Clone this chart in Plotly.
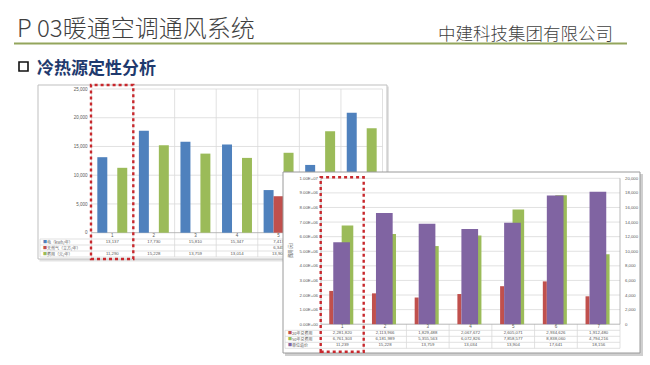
import plotly.graph_objects as go

W, H = 650, 365

# ---------------- data ----------------
categories = ["1", "2", "3", "4", "5", "6", "7"]

# chart 1 (upper-left)
c1_elec = [13137, 17730, 15810, 15347, 7417, 11790, 20860]
c1_gas = [None, None, None, None, 6345, None, None]
c1_cost = [11290, 15228, 13759, 13014, 13904, 17641, 18156]
c1_ticks = [0, 5000, 10000, 15000, 20000, 25000]
c1_row_names = ["电（kWh/年）", "天然气（立方/年）", "费用（元/年）"]

# chart 2 (lower-right)
c2_cost20 = [2281820, 2113966, 1829488, 2067672, 2605071, 2934626, 1912480]
c2_cost50 = [6761303, 6181989, 5355563, 6072826, 7858577, 8838060, 4794216]
c2_unit = [11239, 15228, 13759, 13034, 13904, 17641, 18156]
c2_left_ticks = [0, 1e6, 2e6, 3e6, 4e6, 5e6, 6e6, 7e6, 8e6, 9e6, 1e7]
c2_right_ticks = [0, 2000, 4000, 6000, 8000, 10000, 12000, 14000, 16000, 18000, 20000]
c2_row_names = ["20年总费用", "50年总费用", "单位造价"]
c2_axis_title = "费用(元)"

title_text = "P 03暖通空调通风系统"
company_text = "中建科技集团有限公司"
subtitle_text = "冷热源定性分析"

# ---------------- style ----------------
BLUE, RED, GREEN, PURPLE = "#4f81bd", "#c0504d", "#9bbb59", "#8064a2"
GRID = "#d9d9d9"
TXT = "#595959"
NUM_FONT = "Liberation Sans"
CJK = "Noto Sans CJK SC"
DOT_RED = "#c8282d"


def fx(p):
    return p / W


def fy(p):
    return 1 - p / H


# chart 1 geometry (pixels)
C1_L, C1_T, C1_R, C1_B = 38, 85, 387, 259
C1_PL, C1_PR = 91.5, 382.5
C1_Y0, C1_YT, C1_VT = 232.7, 89.0, 25000


def c1x(p):
    return -0.5 + (p - C1_PL) * 7 / (C1_PR - C1_PL)


def c1y(p):
    return (C1_Y0 - p) * C1_VT / (C1_Y0 - C1_YT)


# chart 2 geometry (pixels)
C2_L, C2_T, C2_R, C2_B = 283, 172, 640, 353
C2_PL, C2_PR = 321, 620
C2_Y0, C2_YT = 324.2, 178.3
C2_VL, C2_VR = 1e7, 20000


def c2x(p):
    return -0.5 + (p - C2_PL) * 7 / (C2_PR - C2_PL)


def c2yl(p):
    return (C2_Y0 - p) * C2_VL / (C2_Y0 - C2_YT)


def c2yr(p):
    return (C2_Y0 - p) * C2_VR / (C2_Y0 - C2_YT)


def fmt(v):
    return "" if v is None else f"{int(v):,}"


# chart-1 table columns whose centre lies under chart 2 are covered in the slide
c1_col_px = [C1_PL + (i + 0.5) * (C1_PR - C1_PL) / 7 for i in range(len(categories))]
c1_shown = [p < C2_L for p in c1_col_px]

fig = go.Figure()

# ---------------- chart 1 bars ----------------
for name, vals, col, off in [
    (c1_row_names[0], c1_elec, BLUE, -0.36),
    (c1_row_names[1], c1_gas, RED, -0.12),
    (c1_row_names[2], c1_cost, GREEN, 0.12),
]:
    fig.add_trace(go.Bar(x=categories, y=vals, name=name, width=0.24, offset=off,
                         marker=dict(color=col, line=dict(width=0)),
                         xaxis="x", yaxis="y", hoverinfo="skip"))

# chart 1 table text
fig.add_trace(go.Scatter(x=categories, y=[c1y(236)] * 7, mode="text",
                         text=[c if s else "" for c, s in zip(categories, c1_shown)],
                         textfont=dict(size=4.5, color=TXT, family=NUM_FONT),
                         cliponaxis=False, xaxis="x", yaxis="y", hoverinfo="skip"))
for i, vals in enumerate([c1_elec, c1_gas, c1_cost]):
    fig.add_trace(go.Scatter(x=categories, y=[c1y(242 + 6 * i)] * 7, mode="text",
                             text=[fmt(v) if s else "" for v, s in zip(vals, c1_shown)],
                             textfont=dict(size=4.3, color=TXT, family=NUM_FONT),
                             cliponaxis=False, xaxis="x", yaxis="y", hoverinfo="skip"))

# ---------------- chart 2 bars ----------------
fig.add_trace(go.Bar(x=categories, y=c2_cost20, name=c2_row_names[0], width=0.094, offset=-0.307,
                     marker=dict(color=RED, line=dict(width=0)), xaxis="x2", yaxis="y2", hoverinfo="skip"))
fig.add_trace(go.Bar(x=categories, y=c2_cost50, name=c2_row_names[1], width=0.272, offset=-0.016,
                     marker=dict(color=GREEN, line=dict(width=0)), xaxis="x2", yaxis="y2", hoverinfo="skip"))
fig.add_trace(go.Scatter(x=categories, y=[c2yl(327.2)] * 7, mode="text", text=categories,
                         textfont=dict(size=4.5, color=TXT, family=NUM_FONT),
                         cliponaxis=False, xaxis="x2", yaxis="y2", hoverinfo="skip"))
for i, vals in enumerate([c2_cost20, c2_cost50, c2_unit]):
    fig.add_trace(go.Scatter(x=categories, y=[c2yl(333.3 + 6 * i)] * 7, mode="text",
                             text=[fmt(v) for v in vals],
                             textfont=dict(size=4.3, color=TXT, family=NUM_FONT),
                             cliponaxis=False, xaxis="x2", yaxis="y2", hoverinfo="skip"))
fig.add_trace(go.Bar(x=categories, y=c2_unit, name=c2_row_names[2], width=0.391, offset=-0.213,
                     marker=dict(color=PURPLE, line=dict(width=0)), xaxis="x2", yaxis="y3", hoverinfo="skip"))

# ---------------- shapes ----------------
shapes = []


def add_rect(x0, y0, x1, y1, **kw):
    shapes.append(dict(type="rect", x0=x0, y0=y0, x1=x1, y1=y1, **kw))


def add_line(x0, y0, x1, y1, **kw):
    shapes.append(dict(type="line", x0=x0, y0=y0, x1=x1, y1=y1, **kw))


# chart 2 shadow and chart 1 frame (lowest layer)
add_rect(fx(C2_L + 2), fy(C2_B + 3), fx(C2_R + 3), fy(C2_T + 2), xref="paper", yref="paper",
         layer="below", fillcolor="#cfcfcf", line=dict(width=0))
add_rect(fx(C1_L + 1.5), fy(C1_B + 2.5), fx(C1_R + 2), fy(C1_T + 1.5), xref="paper", yref="paper",
         layer="below", fillcolor="#e3e3e3", line=dict(width=0))
add_rect(fx(C1_L), fy(C1_B), fx(C1_R), fy(C1_T), xref="paper", yref="paper",
         layer="below", fillcolor="white", line=dict(color="#bfbfbf", width=1))

# chart 1 grid + table lines
k1 = dict(xref="x", yref="y", layer="below")
for v in c1_ticks[1:]:
    add_line(-0.5, v, 6.5, v, line=dict(color=GRID, width=0.8), **k1)
for k in range(8):
    add_line(-0.5 + k, c1y(257), -0.5 + k, c1_ticks[-1], line=dict(color=GRID, width=0.8), **k1)
for yy in [239, 245, 251, 257]:
    add_line(c1x(40), c1y(yy), 6.5, c1y(yy), line=dict(color=GRID, width=0.8), **k1)
add_line(c1x(40), c1y(239), c1x(40), c1y(257), line=dict(color=GRID, width=0.8), **k1)
add_line(-0.5, 0, 6.5, 0, line=dict(color="#a6a6a6", width=0.8), **k1)

# chart 2 box (drawn in chart-2 subplot layer, above chart 1)
k2 = dict(xref="x2", yref="y2", layer="below")
add_rect(c2x(C2_L), c2yl(C2_B), c2x(C2_R), c2yl(C2_T), fillcolor="white",
         line=dict(color="#9a9a9a", width=1), **k2)
for v in c2_left_ticks[1:]:
    add_line(-0.5, v, 6.5, v, line=dict(color=GRID, width=0.8), **k2)
for yy in [330.3, 336.3, 342.3, 348.3]:
    add_line(c2x(285), c2yl(yy), 6.5, c2yl(yy), line=dict(color=GRID, width=0.8), **k2)
for k in range(8):
    add_line(-0.5 + k, c2yl(348.3), -0.5 + k, 0, line=dict(color=GRID, width=0.8), **k2)
add_line(c2x(285), c2yl(330.3), c2x(285), c2yl(348.3), line=dict(color=GRID, width=0.8), **k2)
add_line(-0.5, 0, 6.5, 0, line=dict(color="#a6a6a6", width=0.8), **k2)
add_line(-0.5, 0, -0.5, c2_left_ticks[-1], line=dict(color="#a6a6a6", width=0.8), **k2)
add_line(6.5, 0, 6.5, c2_left_ticks[-1], line=dict(color="#a6a6a6", width=0.8), **k2)

# red dotted highlight boxes
add_rect(fx(91), fy(259), fx(133.3), fy(85), xref="paper", yref="paper", layer="above",
         line=dict(color=DOT_RED, width=2.4, dash="dot"))
add_rect(fx(320.7), fy(351.7), fx(363.7), fy(177.3), xref="paper", yref="paper", layer="above",
         line=dict(color=DOT_RED, width=2.4, dash="dot"))

# header line and bullet square
add_line(fx(14), fy(43.5), fx(627), fy(43.5), xref="paper", yref="paper", layer="above",
         line=dict(color="#93a55c", width=2))
add_rect(fx(19), fy(71), fx(28), fy(62), xref="paper", yref="paper", layer="above",
         line=dict(color="#111111", width=1.6))

# ---------------- annotations ----------------
ann = []
ann.append(dict(x=fx(15), y=fy(26.5), xref="paper", yref="paper", xanchor="left", yanchor="middle",
                text=title_text, showarrow=False,
                font=dict(family=CJK, size=24, color="#3f3f3f", weight=300)))
ann.append(dict(x=fx(615), y=fy(33), xref="paper", yref="paper", xanchor="right", yanchor="middle",
                text=company_text, showarrow=False,
                font=dict(family=CJK, size=17.5, color="#3f3f3f", weight=300)))
ann.append(dict(x=fx(35), y=fy(66.5), xref="paper", yref="paper", xanchor="left", yanchor="middle",
                text="<b>" + subtitle_text + "</b>", showarrow=False,
                font=dict(family=CJK, size=17, color="#1f3a6e")))

for i, (nm, col) in enumerate(zip(c1_row_names, [BLUE, RED, GREEN])):
    ann.append(dict(x=fx(40.5), y=fy(242 + 6 * i), xref="paper", yref="paper", xanchor="left",
                    yanchor="middle", showarrow=False,
                    text=f"<span style='color:{col}'>■</span>{nm}",
                    font=dict(family=CJK, size=4, color=TXT)))
for i, (nm, col) in enumerate(zip(c2_row_names, [RED, GREEN, PURPLE])):
    ann.append(dict(x=fx(285.5), y=fy(333.3 + 6 * i), xref="paper", yref="paper", xanchor="left",
                    yanchor="middle", showarrow=False,
                    text=f"<span style='color:{col}'>■</span>{nm}",
                    font=dict(family=CJK, size=4, color=TXT)))
ann.append(dict(x=fx(290), y=fy(250), xref="paper", yref="paper", xanchor="center", yanchor="middle",
                text=c2_axis_title, showarrow=False, textangle=-90,
                font=dict(family=CJK, size=4.2, color=TXT)))

# ---------------- layout ----------------
hidden_x = dict(type="category", categoryorder="array", categoryarray=categories,
                showticklabels=False, ticks="", showgrid=False, zeroline=False, showline=False)

fig.update_layout(
    width=W, height=H, margin=dict(l=0, r=0, t=0, b=0),
    paper_bgcolor="white", plot_bgcolor="rgba(0,0,0,0)",
    barmode="overlay", showlegend=False,
    shapes=shapes, annotations=ann,
    xaxis=dict(domain=[fx(C1_L - 1), fx(C1_R + 1)], range=[c1x(C1_L - 1), c1x(C1_R + 1)],
               anchor="y", **hidden_x),
    yaxis=dict(domain=[fy(C1_B + 1), fy(C1_T - 1)], range=[c1y(C1_B + 1), c1y(C1_T - 1)],
               anchor="free", position=fx(C1_PL), tickmode="array", tickvals=c1_ticks,
               ticktext=[fmt(v) for v in c1_ticks], ticks="", ticklabelstandoff=4,
               showgrid=False, zeroline=False, showline=False,
               tickfont=dict(size=4.5, color=TXT, family=NUM_FONT)),
    xaxis2=dict(domain=[fx(C2_L - 1), fx(C2_R + 1)], range=[c2x(C2_L - 1), c2x(C2_R + 1)],
                anchor="y2", **hidden_x),
    yaxis2=dict(domain=[fy(C2_B + 1), fy(C2_T - 1)], range=[c2yl(C2_B + 1), c2yl(C2_T - 1)],
                anchor="free", position=fx(C2_PL), side="left", tickmode="array",
                tickvals=c2_left_ticks, ticktext=[f"{v:.2E}" for v in c2_left_ticks],
                ticks="", ticklabelstandoff=3, showgrid=False, zeroline=False, showline=False,
                tickfont=dict(size=4.3, color=TXT, family=NUM_FONT)),
    yaxis3=dict(overlaying="y2", range=[c2yr(C2_B + 1), c2yr(C2_T - 1)],
                anchor="free", position=fx(C2_PR), side="right", tickmode="array",
                tickvals=c2_right_ticks, ticktext=[fmt(v) for v in c2_right_ticks],
                ticks="", ticklabelstandoff=4, showgrid=False, zeroline=False, showline=False,
                tickfont=dict(size=4.3, color=TXT, family=NUM_FONT)),
)

fig.write_html(
    "out.html",
    config={"displayModeBar": False},
    post_script="document.body.style.margin='0';document.body.style.padding='0';"
                "document.documentElement.style.overflow='hidden';",
)
